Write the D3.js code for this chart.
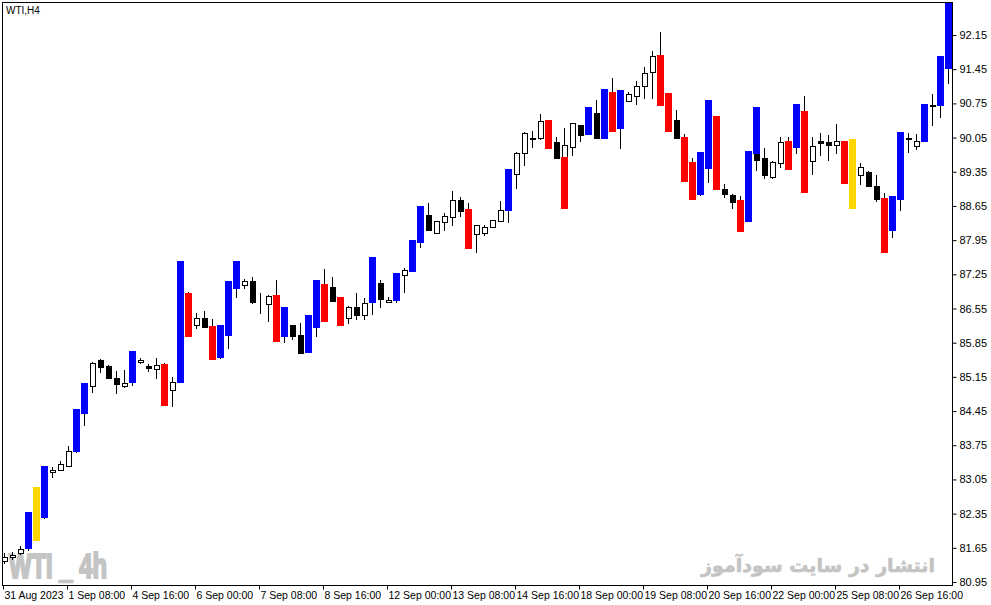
<!DOCTYPE html>
<html><head><meta charset="utf-8">
<script src="https://cdn.jsdelivr.net/npm/d3@7/dist/d3.min.js"></script>
<style>body{margin:0;background:#fff}svg{display:block}</style></head>
<body><svg id="c" width="991" height="605"></svg>
<script>
const opens=[81.37,81.47,81.55,81.63,81.79,82.27,83.21,83.25,83.33,83.62,84.39,84.97,85.50,85.38,85.13,84.97,85.03,85.46,85.38,85.31,85.42,84.88,85.03,86.87,86.22,86.36,86.20,85.54,85.99,86.95,87.03,87.12,86.67,86.64,86.83,85.97,86.22,86.01,85.64,86.15,87.05,86.99,86.79,86.36,86.58,86.42,86.67,87.07,86.69,86.71,87.24,87.30,87.89,88.47,88.10,88.32,88.43,88.77,88.59,88.08,88.10,88.22,88.34,88.55,89.31,89.74,90.03,90.04,90.41,89.96,89.65,89.86,90.31,90.10,90.55,90.02,90.98,90.23,90.80,90.90,91.11,91.39,91.74,90.96,90.41,90.06,89.55,88.88,89.41,90.49,89.00,88.88,88.77,88.32,89.71,89.63,89.24,89.53,89.98,89.84,90.59,89.57,89.98,89.96,89.90,89.98,90.02,89.29,89.35,89.06,88.81,88.14,88.77,90.04,89.88,89.96,90.72,90.70,91.45];
const highs=[81.55,81.57,81.69,82.39,82.90,83.33,83.31,83.43,83.74,84.49,85.03,85.46,85.52,85.40,85.27,85.29,85.68,85.54,85.42,85.54,85.44,85.15,87.52,86.89,86.46,86.50,86.34,86.22,87.12,87.52,87.16,87.20,86.87,86.83,87.14,86.58,86.22,86.26,86.42,87.14,87.36,87.20,86.79,86.60,86.87,86.77,87.61,87.14,86.79,87.28,87.38,87.95,88.65,88.71,88.34,88.51,88.96,88.83,88.71,88.26,88.26,88.36,88.75,89.41,89.76,90.16,90.18,90.53,90.41,90.06,90.25,90.35,90.31,90.68,90.82,91.04,91.27,91.02,90.98,91.21,91.50,91.82,92.21,90.96,90.62,90.12,89.63,89.76,90.82,90.49,89.10,88.90,88.86,89.78,90.68,89.84,89.57,90.06,90.06,90.74,90.90,90.06,90.14,90.10,90.33,89.98,90.02,89.53,89.37,89.29,88.92,88.86,90.16,90.14,90.12,90.74,90.94,91.72,92.80];
const lows=[81.32,81.41,81.51,81.59,81.79,82.24,83.08,83.25,83.33,83.59,84.15,84.82,85.23,85.11,84.80,84.92,84.97,85.42,85.25,85.11,84.56,84.54,85.03,85.97,86.13,86.15,85.50,85.52,85.72,86.77,86.95,86.64,86.44,86.28,85.87,85.85,85.91,85.64,85.64,85.97,86.28,86.71,86.20,86.24,86.32,86.32,86.42,86.56,86.69,86.67,86.87,87.30,87.79,88.16,88.10,88.14,88.24,88.43,87.77,87.69,88.04,88.20,88.34,88.30,89.00,89.47,89.84,90.00,89.82,89.63,88.59,89.67,89.96,90.10,90.04,90.02,90.16,89.82,90.78,90.72,90.84,90.84,90.70,90.16,90.04,89.14,88.77,88.86,89.12,88.98,88.81,88.59,88.12,88.32,89.37,89.20,89.20,89.43,89.39,89.71,88.92,89.29,89.67,89.57,89.71,89.10,88.59,89.08,89.06,88.73,87.69,87.99,88.55,89.74,89.80,89.96,90.29,90.45,91.15];
const closes=[81.47,81.51,81.63,82.39,82.90,83.33,83.25,83.37,83.64,84.49,85.03,85.44,85.36,85.13,85.01,85.03,85.68,85.50,85.33,85.40,84.56,85.05,87.52,85.97,86.36,86.17,85.50,86.22,87.12,87.52,87.12,86.69,86.66,86.81,85.87,86.58,85.99,85.64,86.42,87.14,86.28,86.71,86.20,86.58,86.42,86.67,87.61,86.75,86.73,87.28,87.34,87.95,88.65,88.16,88.34,88.45,88.77,88.55,87.77,88.26,88.22,88.36,88.57,89.41,89.74,90.14,90.04,90.39,89.82,89.63,89.90,90.35,90.10,90.68,90.04,91.04,90.16,91.02,90.94,91.11,91.37,91.72,90.70,90.16,90.04,89.14,88.77,89.76,90.82,88.98,88.90,88.73,88.12,89.78,89.59,89.29,89.55,89.96,89.39,90.74,88.92,89.88,89.94,89.90,89.98,89.10,88.59,89.45,89.06,88.79,87.69,88.86,90.16,90.02,89.98,90.74,90.70,91.72,92.80];
const blueBars=[3,5,9,10,16,22,27,28,29,35,38,39,46,49,51,52,63,73,75,77,87,88,93,99,111,112,115,117,118];
const redBars=[20,23,26,34,40,42,58,68,76,82,83,85,86,89,92,98,100,105,110];
const yellowBars=[4,106];
const overlayIdx=[70,94], overlayColor=["R","B"], overlayFrom=[89.65,89.71], overlayTo=[88.59,90.68];
const priceTicks=[80.95,81.65,82.35,83.05,83.75,84.45,85.15,85.85,86.55,87.25,87.95,88.65,89.35,90.05,90.75,91.45,92.15];
const timeIdx=[0,8,16,24,32,40,48,56,64,72,80,88,96,104,112];
const timeLabels=["31 Aug 2023","1 Sep 08:00","4 Sep 16:00","6 Sep 00:00","7 Sep 08:00","8 Sep 16:00","12 Sep 00:00","13 Sep 08:00","14 Sep 16:00","18 Sep 00:00","19 Sep 08:00","20 Sep 16:00","22 Sep 00:00","25 Sep 08:00","26 Sep 16:00"];

const COL={B:"#0000ff",R:"#ff0000",Y:"#ffd700"};
const paint=opens.map((_,i)=>blueBars.includes(i)?"B":redBars.includes(i)?"R":yellowBars.includes(i)?"Y":"");
const svg=d3.select("#c");
const L=2,R=952,T=2,B=585;
const x=d3.scaleLinear().domain([0,118]).range([4,948]);
const y=d3.scaleLinear().domain([80.95,92.15]).range([582,35]);
svg.append("clipPath").attr("id","cl").append("rect").attr("x",L).attr("y",T).attr("width",R-L).attr("height",B-T);
const cg=svg.append("g").attr("clip-path","url(#cl)");
cg.append("text").attr("x",9).attr("y",578).attr("font-family","Liberation Sans, Arial").attr("font-weight","bold").attr("font-size",35)
 .attr("textLength",98).attr("lengthAdjust","spacingAndGlyphs").attr("fill","#c4c4c4").attr("stroke","#c4c4c4").attr("stroke-width",2.2).text("WTI _ 4h");
cg.append("text").attr("x",935).attr("y",572).attr("text-anchor","end").attr("font-family","DejaVu Sans").attr("font-weight","bold").attr("font-size",19).attr("fill","#c4c4c4").attr("stroke","#c4c4c4").attr("stroke-width",0.6).text("انتشار در سایت سودآموز");
const d=opens.map((o,i)=>({i,o,h:highs[i],l:lows[i],c:closes[i],p:paint[i]}));
const X=i=>Math.round(x(i));
cg.selectAll("line.w").data(d).join("line").attr("x1",e=>X(e.i)+0.5).attr("x2",e=>X(e.i)+0.5)
 .attr("y1",e=>Math.round(y(e.h))).attr("y2",e=>Math.round(y(e.l))).attr("stroke","#000").attr("stroke-width",1);
d.forEach(e=>{
 const top=Math.round(y(Math.max(e.o,e.c))), bot=Math.round(y(Math.min(e.o,e.c)));
 if(e.p){
  cg.append("rect").attr("x",X(e.i)-3).attr("y",top).attr("width",7).attr("height",Math.max(1,bot-top)).attr("fill",COL[e.p]);
 } else {
  const bull=e.c>=e.o;
  cg.append("rect").attr("x",X(e.i)-2+0.5).attr("y",top+0.5).attr("width",5).attr("height",Math.max(0,bot-top)).attr("fill",bull?"#fff":"#000").attr("stroke","#000").attr("stroke-width",1);
 }
});
overlayIdx.forEach((i,k)=>{
 const a=Math.round(y(Math.max(overlayFrom[k],overlayTo[k]))), b=Math.round(y(Math.min(overlayFrom[k],overlayTo[k])));
 cg.append("rect").attr("x",X(i)-3).attr("y",a).attr("width",7).attr("height",b-a).attr("fill",COL[overlayColor[k]]);
});
svg.append("rect").attr("x",L+0.5).attr("y",T+0.5).attr("width",R-L).attr("height",B-T).attr("fill","none").attr("stroke","#000");
const ra=svg.append("g").attr("transform",`translate(${R+0.5},0)`).call(d3.axisRight(y).tickValues(priceTicks).tickFormat(d3.format(".2f")).tickSize(4).tickPadding(3));
ra.select(".domain").remove();
ra.selectAll("text").attr("font-family","Liberation Sans, Arial").attr("font-size",11).attr("fill","#000");
const bx=svg.append("g").attr("transform",`translate(0,${B+0.5})`);
timeIdx.forEach((ti,k)=>{
 const px=X(ti)-1+0.5;
 bx.append("line").attr("x1",px).attr("x2",px).attr("y1",0).attr("y2",4).attr("stroke","#000");
 bx.append("text").attr("x",px+1).attr("y",13).attr("font-family","Liberation Sans, Arial").attr("font-size",10.5).attr("fill","#000").text(timeLabels[k]);
});
svg.append("text").attr("x",6).attr("y",14).attr("font-family","Liberation Sans, Arial").attr("font-size",10).attr("fill","#000").text("WTI,H4");
</script></body></html>
